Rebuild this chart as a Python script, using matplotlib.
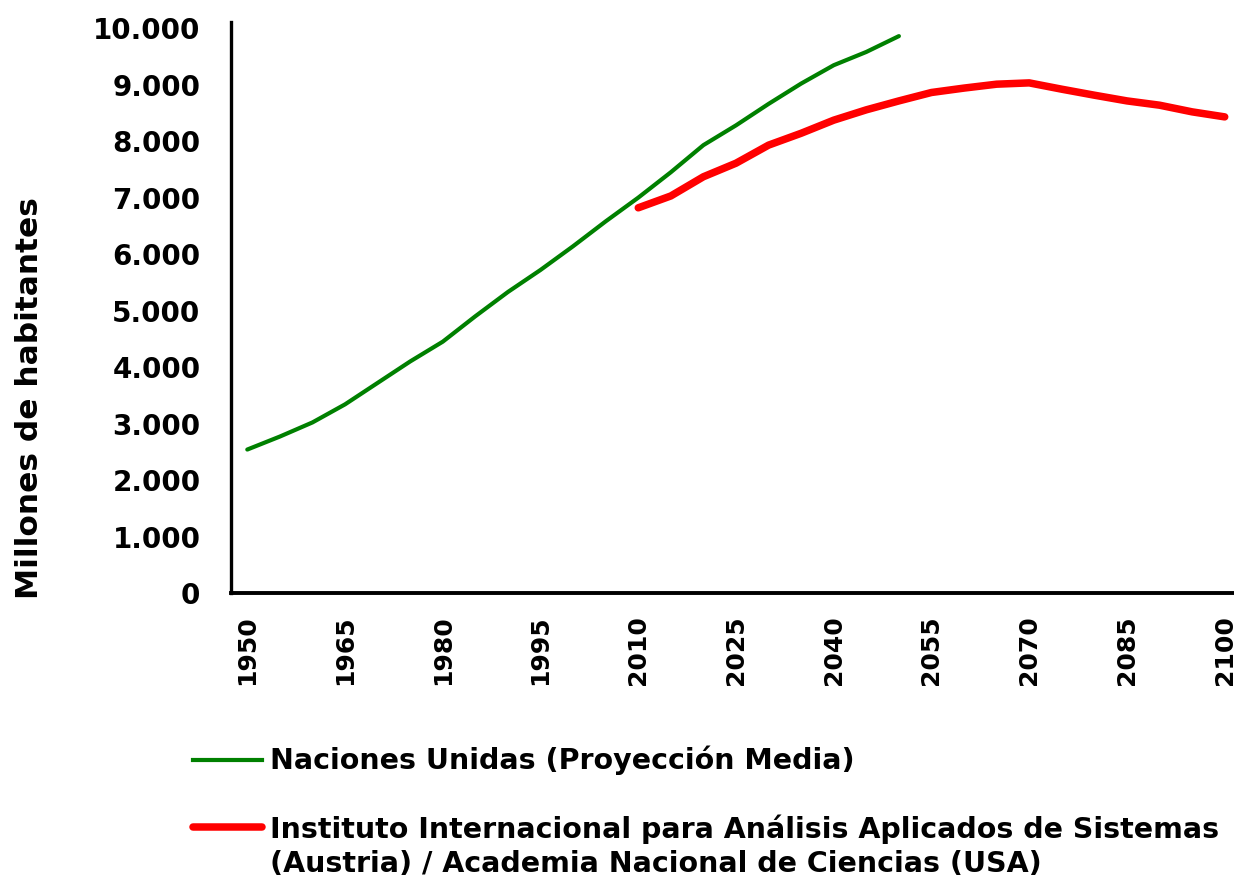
import numpy as np
import matplotlib
matplotlib.use("Agg")
import matplotlib.pyplot as plt
from matplotlib.lines import Line2D

plt.rcParams['font.family'] = ['DejaVu Sans']
plt.rcParams['font.weight'] = 'bold'

years = list(range(1950, 2101, 5))

# Naciones Unidas (Proyeccion Media), 1950-2050
un_vals = [2540, 2770, 3020, 3340, 3720, 4100, 4450, 4900, 5330, 5720,
           6140, 6580, 7000, 7450, 7930, 8280, 8660, 9020, 9345, 9580, 9860]

# IIASA / NAS, 2010-2100
iiasa_vals = [6820, 7030, 7370, 7610, 7930, 8140, 8372, 8555, 8713, 8862,
              8940, 9009, 9032, 8920, 8814, 8713, 8637, 8519, 8430]

un_label = "Naciones Unidas (Proyección Media)"
iiasa_label1 = "Instituto Internacional para Análisis Aplicados de Sistemas"
iiasa_label2 = "(Austria) / Academia Nacional de Ciencias (USA)"

n = len(years)
un = np.full(n, np.nan)
un[:len(un_vals)] = un_vals
iiasa = np.full(n, np.nan)
iiasa[n - len(iiasa_vals):] = iiasa_vals

W, H = 1234, 880
fig = plt.figure(figsize=(W / 100, H / 100), dpi=100)
ax = fig.add_axes([231 / W, 1 - 593 / H, 1010 / W, 571 / H])

x = np.arange(n)
ax.plot(x, un, color='#008000', lw=3.0, solid_capstyle='round')
ax.plot(x, iiasa, color='#ff0000', lw=5.4, solid_capstyle='round')

ax.set_xlim(-0.5, n - 0.5)
ax.set_ylim(0, 10110)
ax.set_yticks(np.arange(0, 10001, 1000))
ax.set_yticklabels(['0'] + ['{:d}.000'.format(v) for v in range(1, 11)])
ax.set_xticks(x[::3])
ax.set_xticklabels([str(y) for y in years[::3]], rotation=90)
ax.tick_params(axis='y', length=0, pad=22, labelsize=20)
ax.tick_params(axis='x', length=0, pad=16, labelsize=18)

for s in ['top', 'right']:
    ax.spines[s].set_visible(False)
ax.spines['left'].set_linewidth(2.4)
ax.spines['bottom'].set_linewidth(2.8)

fig.text(30 / W, 1 - 398 / H, "Millones de habitantes", rotation=90,
         ha='center', va='center', fontsize=22.5, fontweight='bold')

# legend below the plot
fig.add_artist(Line2D([193 / W, 262 / W], [1 - 760 / H, 1 - 760 / H],
                      color='#008000', lw=3.0))
fig.text(270 / W, 1 - 760 / H, un_label, ha='left', va='center',
         fontsize=20.5, fontweight='bold')
fig.add_artist(Line2D([193 / W, 262 / W], [1 - 827 / H, 1 - 827 / H],
                      color='#ff0000', lw=5.4, solid_capstyle='round'))
fig.text(270 / W, 1 - 829 / H, iiasa_label1, ha='left', va='center',
         fontsize=20.5, fontweight='bold')
fig.text(270 / W, 1 - 864 / H, iiasa_label2, ha='left', va='center',
         fontsize=20.5, fontweight='bold')

fig.savefig("out.png", dpi=100)
